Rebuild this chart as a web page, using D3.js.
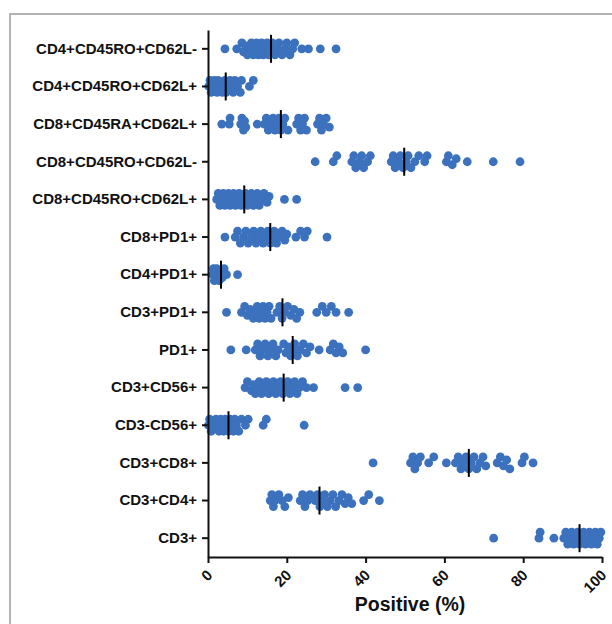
<!DOCTYPE html>
<html lang="en">
<head>
<meta charset="utf-8">
<script src="https://d3js.org/d3.v7.min.js"></script>
<style>
  body { margin: 0; background: #fff; }
  text { font-family: Arial, "Liberation Sans", sans-serif; font-weight: bold; }
</style>
</head>
<body>
<svg width="612" height="624"></svg>
<script>
// categories, top to bottom
var categories = ["CD4+CD45RO+CD62L-", "CD4+CD45RO+CD62L+", "CD8+CD45RA+CD62L+", "CD8+CD45RO+CD62L-",
  "CD8+CD45RO+CD62L+", "CD8+PD1+", "CD4+PD1+", "CD3+PD1+", "PD1+", "CD3+CD56+", "CD3-CD56+",
  "CD3+CD8+", "CD3+CD4+", "CD3+"];

// % positive per patient
var cd4RoL_neg = [4.3, 7.3, 8.6, 9.0, 9.5, 10.0, 10.7, 11.0, 11.5, 12.0, 12.3, 12.8, 13.2, 13.6, 14.0, 14.5, 15.0,
  15.4, 15.8, 16.3, 17.0, 17.6, 18.0, 18.8, 19.5, 20.0, 20.8, 21.5, 22.0, 23.8, 25.5, 28.5, 32.5];
var cd4RoL_pos = [0.2, 0.5, 0.8, 1.0, 1.3, 1.6, 2.0, 2.3, 2.6, 3.0, 3.3, 3.6, 4.0, 4.3, 4.6, 5.0, 5.3, 5.6, 6.0,
  6.4, 6.8, 7.5, 8.2, 8.5, 10.5, 11.5];
var cd8RaL_pos = [3.5, 5.4, 5.6, 8.3, 8.6, 9.0, 9.3, 9.6, 12.5, 14.3, 14.8, 15.3, 16.0, 16.5, 17.0, 17.5, 18.0,
  18.5, 19.0, 19.5, 20.3, 22.5, 23.0, 23.5, 24.0, 24.5, 25.0, 27.8, 28.3, 28.8, 29.3, 30.0, 30.8];
var cd8RoL_neg = [27.2, 31.8, 32.7, 36.5, 37.0, 37.5, 38.5, 39.0, 39.5, 40.5, 41.2, 46.5, 47.0, 47.5, 48.3, 48.8,
  49.5, 50.3, 50.8, 51.5, 52.5, 53.5, 55.0, 55.6, 60.5, 61.0, 62.0, 63.0, 65.8, 72.4, 79.2];
var cd8RoL_pos = [2.2, 2.6, 3.0, 3.4, 3.9, 4.3, 4.8, 5.2, 5.6, 6.1, 6.5, 7.0, 7.4, 7.9, 8.4, 8.9, 9.5, 10.0, 10.5,
  11.0, 11.5, 12.0, 12.5, 13.0, 13.5, 14.2, 15.0, 15.5, 19.4, 22.5];
var cd8Pd1 = [4.3, 6.9, 7.5, 8.2, 9.0, 9.6, 10.2, 11.0, 11.6, 12.2, 12.8, 13.4, 14.0, 14.6, 15.2, 15.8, 16.3, 16.8,
  17.4, 18.0, 18.8, 19.5, 20.0, 22.3, 23.5, 24.5, 25.2, 30.2];
var cd4Pd1 = [1.2, 1.4, 1.6, 1.8, 2.0, 2.2, 2.5, 2.8, 3.1, 3.6, 4.1, 4.7, 7.5];
var cd3Pd1 = [4.7, 8.5, 9.3, 10.0, 10.7, 11.5, 12.0, 12.5, 13.0, 13.5, 14.0, 14.5, 15.0, 15.5, 16.0, 17.5, 18.2,
  18.8, 19.5, 20.2, 21.0, 21.8, 22.5, 23.3, 27.6, 29.0, 30.0, 31.3, 32.5, 35.7];
var pd1 = [5.8, 9.7, 12.0, 12.6, 13.2, 13.8, 14.5, 15.2, 15.8, 16.5, 17.2, 17.8, 19.2, 19.8, 20.4, 21.0, 21.5, 22.0,
  22.7, 23.4, 24.2, 25.0, 25.9, 28.2, 31.0, 31.8, 32.5, 33.3, 34.2, 40.0];
var cd3Cd56 = [9.4, 10.0, 11.0, 11.5, 12.0, 12.5, 13.0, 13.6, 14.2, 14.8, 15.4, 16.0, 16.6, 17.2, 17.8, 18.4, 19.0,
  19.6, 20.2, 20.8, 21.4, 22.0, 22.6, 23.2, 24.0, 25.0, 26.8, 34.8, 38.0];
var cd3negCd56 = [0.1, 0.4, 0.8, 1.2, 1.6, 2.0, 2.4, 2.8, 3.2, 3.6, 4.0, 4.4, 4.8, 5.2, 5.6, 6.0, 6.4, 6.8, 7.2,
  7.8, 8.5, 9.5, 10.2, 14.0, 14.8, 24.4];
var cd3Cd8 = [41.9, 51.4, 52.0, 52.5, 53.2, 53.9, 56.0, 57.3, 60.5, 62.8, 63.5, 64.2, 64.8, 65.5, 66.2, 66.8, 67.5,
  68.2, 69.0, 69.8, 70.5, 73.4, 74.2, 75.0, 75.8, 76.6, 79.7, 80.3, 82.5];
var cd3Cd4 = [15.8, 16.2, 16.6, 17.0, 18.0, 18.8, 19.5, 20.4, 23.4, 24.0, 24.6, 25.3, 25.9, 27.2, 27.8, 28.4, 29.0,
  29.6, 30.3, 31.0, 31.7, 32.4, 33.2, 34.0, 34.8, 35.6, 36.5, 39.5, 40.8, 43.5];
var cd3 = [72.5, 84.0, 84.3, 87.8, 90.3, 90.8, 91.3, 91.8, 92.3, 92.8, 93.3, 93.8, 94.3, 94.8, 95.3, 95.8, 96.3,
  96.8, 97.3, 97.8, 98.3, 98.8, 99.3, 99.7];

var series = [cd4RoL_neg, cd4RoL_pos, cd8RaL_pos, cd8RoL_neg, cd8RoL_pos, cd8Pd1, cd4Pd1, cd3Pd1, pd1,
  cd3Cd56, cd3negCd56, cd3Cd8, cd3Cd4, cd3];

// median lines as drawn
var medians = [16.0, 4.5, 18.5, 49.8, 9.2, 15.8, 3.3, 18.9, 21.5, 19.2, 5.2, 66.2, 28.3, 94.3];

var xTicks = [0, 20, 40, 60, 80, 100];

var svg = d3.select("svg");

// light frame around the figure
svg.append("rect")
  .attr("x", 10).attr("y", 14)
  .attr("width", 640).attr("height", 640)
  .attr("fill", "none").attr("stroke", "#b4b4b4").attr("stroke-width", 2);

var x = d3.scaleLinear().domain([0, 100]).range([208, 602]);
var y = d3.scaleBand().domain(categories).range([30, 557]);

// simple beeswarm: nudge overlapping dots up/down
var r = 4.4;
var offs = [0, -3, 3, -6, 6];
var dots = [];
series.forEach(function (vals, i) {
  var cy = y(categories[i]) + y.bandwidth() / 2;
  var placed = [];
  vals.slice().sort(d3.ascending).forEach(function (v) {
    var px = x(v);
    var best = 0, bestD = -1;
    for (var k = 0; k < offs.length; k++) {
      var dmin = Infinity;
      placed.forEach(function (p) {
        var dd = Math.hypot(p.x - px, p.dy - offs[k]);
        if (dd < dmin) dmin = dd;
      });
      if (dmin >= 6.5) { best = offs[k]; bestD = Infinity; break; }
      if (dmin > bestD) { bestD = dmin; best = offs[k]; }
    }
    placed.push({x: px, dy: best});
    dots.push({x: px, y: cy + best});
  });
});

svg.append("g")
  .selectAll("circle")
  .data(dots)
  .enter()
  .append("circle")
  .attr("cx", function (d) { return d.x; })
  .attr("cy", function (d) { return d.y; })
  .attr("r", r)
  .attr("fill", "#3b71bd");

// median markers
svg.append("g")
  .selectAll("line")
  .data(medians)
  .enter()
  .append("line")
  .attr("x1", function (d) { return x(d); })
  .attr("x2", function (d) { return x(d); })
  .attr("y1", function (d, i) { return y(categories[i]) + y.bandwidth() / 2 - 14; })
  .attr("y2", function (d, i) { return y(categories[i]) + y.bandwidth() / 2 + 14; })
  .attr("stroke", "#000")
  .attr("stroke-width", 2);

// AXES
var yAxis = svg.append("g")
  .attr("transform", "translate(208,0)")
  .call(d3.axisLeft(y).tickSize(6).tickSizeOuter(0).tickPadding(5));
yAxis.selectAll("text").style("font-size", "15px").attr("fill", "#111");

var xAxis = svg.append("g")
  .attr("transform", "translate(0,557)")
  .call(d3.axisBottom(x).tickValues(xTicks).tickSize(6).tickSizeOuter(0));
xAxis.selectAll("text")
  .style("font-size", "15px")
  .attr("fill", "#111")
  .attr("text-anchor", "end")
  .attr("dy", null)
  .attr("y", null)
  .attr("transform", "translate(5,19) rotate(-45)");

svg.selectAll(".domain, .tick line").attr("stroke", "#111").attr("stroke-width", 2);

svg.append("text")
  .attr("x", 410).attr("y", 611)
  .attr("text-anchor", "middle")
  .style("font-size", "19.5px")
  .attr("fill", "#111")
  .text("Positive (%)");
</script>
</body>
</html>
